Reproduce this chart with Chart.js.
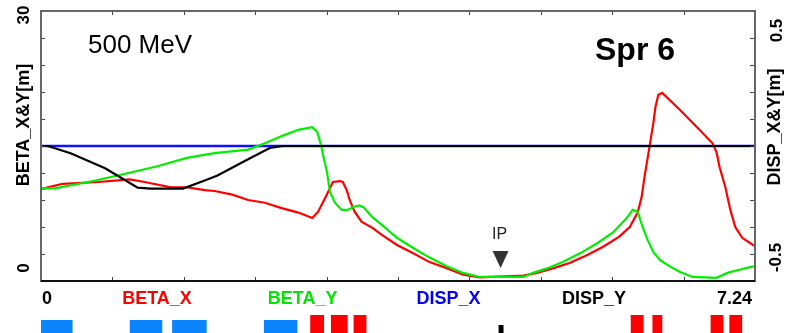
<!DOCTYPE html>
<html>
<head>
<meta charset="utf-8">
<title>Spr 6 optics</title>
<script src="https://cdn.jsdelivr.net/npm/chart.js@4.4.0/dist/chart.umd.min.js"></script>
<style>
  html, body { margin: 0; padding: 0; background: #fff; }
  #wrap { width: 787px; height: 333px; }
</style>
</head>
<body>
<div id="wrap"><canvas id="optics" width="787" height="333"></canvas></div>
<script>
// section length [m]
var sMax = 7.24;

// BETA_X [m]
var betaXs = [0, 0.07, 0.22, 0.58, 0.81, 0.90, 1.05, 1.32, 1.49, 1.66, 1.76, 1.94, 2.10, 2.27, 2.44, 2.61, 2.75, 2.81, 2.88, 2.93, 2.96, 3.03, 3.06, 3.10, 3.13, 3.18, 3.25, 3.36, 3.46, 3.61, 3.77, 3.94, 4.12, 4.28, 4.45, 4.89, 5.03, 5.19, 5.36, 5.54, 5.70, 5.86, 5.97, 6.05, 6.09, 6.12, 6.17, 6.21, 6.23, 6.26, 6.30, 6.48, 6.65, 6.81, 6.85, 6.88, 6.94, 6.99, 7.04, 7.11, 7.22, 7.24];
var betaXv = [10.2, 10.4, 10.8, 11.0, 11.2, 11.3, 11.0, 10.4, 10.4, 10.1, 10.0, 9.6, 9.0, 8.7, 8.1, 7.6, 7.0, 7.7, 9.2, 10.3, 11.0, 11.1, 11.0, 10.1, 9.0, 7.7, 6.6, 5.9, 5.1, 4.0, 3.1, 2.1, 1.4, 0.7, 0.4, 0.6, 0.9, 1.4, 2.0, 2.9, 3.8, 4.9, 6.0, 7.6, 9.3, 11.6, 14.9, 17.6, 19.3, 20.7, 20.9, 19.0, 17.1, 15.3, 14.3, 12.7, 10.4, 7.9, 6.0, 4.8, 4.0, 3.9];

// BETA_Y [m]
var betaYs = [0, 0.14, 0.48, 0.81, 1.16, 1.49, 1.76, 2.10, 2.27, 2.44, 2.61, 2.75, 2.80, 2.84, 2.86, 2.90, 2.93, 2.98, 3.05, 3.11, 3.16, 3.23, 3.27, 3.36, 3.46, 3.61, 3.77, 3.94, 4.12, 4.28, 4.45, 4.89, 4.99, 5.13, 5.29, 5.47, 5.64, 5.80, 5.94, 6.00, 6.05, 6.10, 6.15, 6.21, 6.28, 6.38, 6.48, 6.61, 6.85, 6.96, 7.06, 7.21, 7.24];
var betaYv = [10.3, 10.3, 11.0, 11.8, 12.7, 13.7, 14.2, 14.6, 15.3, 16.1, 16.8, 17.1, 16.6, 15.1, 14.0, 12.1, 9.9, 8.7, 7.9, 7.9, 8.2, 8.4, 8.2, 7.1, 6.2, 4.8, 3.7, 2.6, 1.6, 0.9, 0.45, 0.45, 0.9, 1.4, 2.1, 3.1, 4.2, 5.4, 7.0, 7.9, 7.7, 6.0, 4.6, 3.2, 2.3, 1.6, 1.0, 0.45, 0.35, 0.9, 1.2, 1.6, 1.6];

// DISP_X, DISP_Y [m]
var dispXs = [0, 7.24];
var dispXv = [0, 0];
var dispYs = [0, 0.07, 0.30, 0.65, 0.98, 1.11, 1.44, 1.66, 1.79, 2.10, 2.32, 2.45, 7.24];
var dispYv = [0, 0, -0.032, -0.099, -0.185, -0.189, -0.189, -0.153, -0.131, -0.059, -0.009, 0, 0];

// lattice: element start / end [m] and kind (Q quad, B bend, M marker)
var elemFrom = [0, 0.90, 1.33, 2.26, 2.73, 2.94, 3.17, 4.64, 5.98, 6.20, 6.79, 6.98];
var elemTo   = [0.32, 1.23, 1.68, 2.60, 2.87, 3.11, 3.30, 4.69, 6.11, 6.30, 6.92, 7.11];
var elemKind = ['Q', 'Q', 'Q', 'Q', 'B', 'B', 'B', 'M', 'B', 'B', 'B', 'B'];

var ipPos = 4.66;
var betaTicks = [0, 3, 6, 9, 12, 15, 18, 21, 24, 27, 30];
var dispLabels = [0.5, -0.5];
var sDivisions = 10;

var FONT = '"Liberation Sans", Arial, sans-serif';
var kindStyle = {
  Q: { color: '#0a84ff', top: 320 },
  B: { color: '#ff0000', top: 315 },
  M: { color: '#000000', top: 325 }
};

function pts(xs, ys) {
  return xs.map(function (s, i) { return { x: s, y: ys[i] }; });
}

function rotText(ctx, txt, x, y, font, color) {
  ctx.save();
  ctx.translate(x, y);
  ctx.rotate(-Math.PI / 2);
  ctx.font = font;
  ctx.fillStyle = color;
  ctx.textAlign = 'center';
  ctx.textBaseline = 'middle';
  ctx.fillText(txt, 0, 0);
  ctx.restore();
}

// frame, inward ticks, labels, lattice strip
var decor = {
  id: 'decor',
  afterDatasetsDraw: function (chart) {
    var ctx = chart.ctx, a = chart.chartArea;
    var sx = chart.scales.x, sy = chart.scales.y, sd = chart.scales.disp;
    ctx.save();

    // inward tick marks
    ctx.strokeStyle = '#444';
    ctx.lineWidth = 1;
    ctx.beginPath();
    betaTicks.forEach(function (v) {
      var py = Math.round(sy.getPixelForValue(v)) + 0.5;
      ctx.moveTo(a.left, py); ctx.lineTo(a.left + 4, py);
      ctx.moveTo(a.right, py); ctx.lineTo(a.right - 5, py);
    });
    for (var i = 0; i <= sDivisions; i++) {
      var px = Math.round(sx.getPixelForValue(sMax * i / sDivisions)) + 0.5;
      ctx.moveTo(px, a.top); ctx.lineTo(px, a.top + 4);
      ctx.moveTo(px, a.bottom); ctx.lineTo(px, a.bottom - 4);
    }
    ctx.stroke();

    // box
    ctx.strokeStyle = '#666';
    ctx.lineWidth = 2;
    ctx.strokeRect(a.left, a.top, a.right - a.left, a.bottom - a.top);
    ctx.strokeStyle = '#111';
    ctx.beginPath();
    ctx.moveTo(a.left, a.bottom); ctx.lineTo(a.right, a.bottom);
    ctx.stroke();

    // left axis
    var bold = 'bold 18px ' + FONT;
    rotText(ctx, '30', 24, a.top + 4, 'bold 17px ' + FONT, '#000');
    rotText(ctx, '0', 24, a.bottom - 13, 'bold 17px ' + FONT, '#000');
    rotText(ctx, 'BETA_X&Y[m]', 24, 125, bold, '#000');

    // right axis
    rotText(ctx, '0.5', 777, sd.getPixelForValue(dispLabels[0]) - 3, 'bold 17px ' + FONT, '#000');
    rotText(ctx, '-0.5', 776, sd.getPixelForValue(dispLabels[1]) - 1, 'bold 17px ' + FONT, '#000');
    rotText(ctx, 'DISP_X&Y[m]', 775, 127, bold, '#000');

    // s labels and curve names
    ctx.font = bold;
    ctx.textBaseline = 'alphabetic';
    ctx.fillStyle = '#000';
    ctx.textAlign = 'left';
    ctx.fillText('0', sx.getPixelForValue(0) + 1, 304);
    ctx.textAlign = 'right';
    ctx.fillText(String(sMax), sx.getPixelForValue(sMax) - 3, 304);
    ctx.textAlign = 'center';
    chart.data.datasets.forEach(function (ds) {
      ctx.fillStyle = ds.textColor;
      ctx.fillText(ds.label, 157 + ds.slot * 145.7, 304);
    });

    // lattice elements
    elemFrom.forEach(function (s0, i) {
      var st = kindStyle[elemKind[i]];
      var x0 = sx.getPixelForValue(s0), x1 = sx.getPixelForValue(elemTo[i]);
      ctx.fillStyle = st.color;
      ctx.fillRect(x0, st.top, x1 - x0, 333 - st.top);
    });

    // interaction point
    var ipx = sx.getPixelForValue(ipPos);
    ctx.fillStyle = '#222';
    ctx.font = '16px ' + FONT;
    ctx.textAlign = 'center';
    ctx.fillText('IP', ipx - 1, 239);
    ctx.fillStyle = '#333';
    ctx.beginPath();
    ctx.moveTo(ipx - 8, 251);
    ctx.lineTo(ipx + 8, 251);
    ctx.lineTo(ipx, 268);
    ctx.closePath();
    ctx.fill();

    // energy and section name
    ctx.fillStyle = '#000';
    ctx.textAlign = 'left';
    ctx.font = '26px ' + FONT;
    ctx.fillText('500 MeV', 88, 53);
    ctx.font = 'bold 32px ' + FONT;
    ctx.fillText('Spr 6', 595, 60);

    ctx.restore();
  }
};

new Chart(document.getElementById('optics').getContext('2d'), {
  type: 'line',
  data: {
    datasets: [
      { label: 'BETA_X', slot: 0, textColor: '#ff0000', data: pts(betaXs, betaXv),
        borderColor: '#ff0000', yAxisID: 'y', order: 2 },
      { label: 'BETA_Y', slot: 1, textColor: '#00e600', data: pts(betaYs, betaYv),
        borderColor: '#00ee00', yAxisID: 'y', order: 1 },
      { label: 'DISP_X', slot: 2, textColor: '#0000ff', data: pts(dispXs, dispXv),
        borderColor: '#1010ff', borderWidth: 2.6, yAxisID: 'disp', order: 3 },
      { label: 'DISP_Y', slot: 3, textColor: '#000000', data: pts(dispYs, dispYv),
        borderColor: '#000000', yAxisID: 'disp', order: 0 }
    ]
  },
  options: {
    responsive: false,
    maintainAspectRatio: false,
    devicePixelRatio: 1,
    animation: false,
    layout: { padding: { left: 41, top: 11, right: 32, bottom: 52 } },
    elements: {
      line: { borderWidth: 2.2, tension: 0, fill: false },
      point: { radius: 0 }
    },
    scales: {
      x: { type: 'linear', min: 0, max: sMax, display: false },
      y: { type: 'linear', min: 0, max: 30, display: false },
      disp: { type: 'linear', position: 'right', min: -0.6, max: 0.6, display: false }
    },
    plugins: {
      legend: { display: false },
      tooltip: { enabled: false }
    }
  },
  plugins: [decor]
});
</script>
</body>
</html>
